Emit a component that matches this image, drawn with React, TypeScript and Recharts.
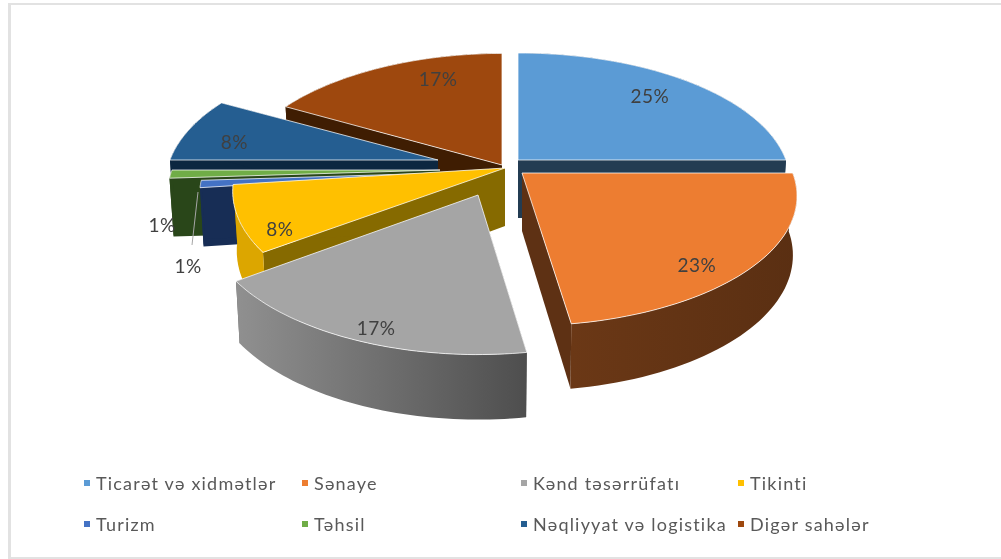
import React from "react";
import { PieChart, Pie, Legend } from "recharts";

const categories = ["Ticarət və xidmətlər", "Sənaye", "Kənd təsərrüfatı", "Tikinti", "Turizm", "Təhsil", "Nəqliyyat və logistika", "Digər sahələr"];
const shares = [25, 22.6, 17.4, 8, 1, 1, 8, 17];
const topColors = ["#5b9bd5", "#ed7d31", "#a5a5a5", "#ffc000", "#4472c4", "#70ad47", "#255e91", "#9e480e"];
const cutColors = ["#233c52", "#5e3114", "#636363", "#866a00", "#172d55", "#294619", "#0c2740", "#3f1d02"];
const wallLeft = ["#233c52", "#6b3816", "#909090", "#dca600", "#172d55", "#294619", "#0c2740", "#3f1d02"];
const wallRight = ["#233c52", "#5a2f12", "#4e4e4e", "#dca600", "#172d55", "#294619", "#0c2740", "#3f1d02"];
const paintOrder = [0, 7, 6, 5, 4, 3, 1, 2];

// slice explosion (from chart centre), radius factor and tilt
const offsetX = [18, 22, -22, 5, -58, -60, -62, 2];
const offsetY = [-5, 8, 30, 3, 8, 5, -5, 0];
const radiusScale = [1, 1.01, 1, 1, 0.89, 1, 1, 1];
const tilt = [0.47, 0.465, 0.49, 0.48, 0.48, 0.48, 0.48, 0.49];
// label placement
const labelFraction = [0.75, 0.8, 0.92, 0.85, 1.04, 1.04, 0.8, 0.75];
const labelNudgeX = [2, -6, 10, -1, 0, 0, -3, 28];
const labelNudgeY = [-3, 19, 1, 18, 0, 0, 6, -10];
const legendColumns = [84, 302, 521, 738];
const legendRows = [483, 524];

const data = categories.map((name, i) => ({ name, value: shares[i] }));

const PERSPECTIVE = 0.177;
const DEPTH = 58;
const RAD = Math.PI / 180;

function project(i: number, cx: number, cy: number, R: number, angle: number, f: number) {
  const px = Math.cos(angle * RAD) * f;
  const py = -Math.sin(angle * RAD) * f;
  const s = 1 / (1 - PERSPECTIVE * py);
  const r = R * radiusScale[i];
  return { x: cx + offsetX[i] + r * px * s, y: cy + offsetY[i] + r * tilt[i] * py * s, py };
}
function lowered(i: number, cx: number, p: { x: number; y: number; py: number }) {
  const ax = cx + offsetX[i];
  return { x: ax + (p.x - ax) * 0.985, y: p.y + DEPTH + 7 * Math.max(p.py, 0) };
}
const fmt = (p: { x: number; y: number }) => `${p.x.toFixed(1)} ${p.y.toFixed(1)}`;

function Slice3D(props: any) {
  const { index: i, cx, cy, outerRadius: R, startAngle, endAngle } = props;
  const steps = 48;
  const arc = [];
  for (let k = 0; k <= steps; k++) {
    arc.push(project(i, cx, cy, R, startAngle + ((endAngle - startAngle) * k) / steps, 1));
  }
  const apex = project(i, cx, cy, R, 0, 0);
  const low = arc.map((p) => lowered(i, cx, p));
  const apexLow = lowered(i, cx, apex);
  const top = `M${fmt(apex)} L${arc.map(fmt).join(" L")} Z`;
  const cut = (p: any, q: any) => `M${fmt(apex)} L${fmt(p)} L${fmt(q)} L${fmt(apexLow)} Z`;
  const wall = `M${arc.map(fmt).join(" L")} L${low.slice().reverse().map(fmt).join(" L")} Z`;
  const id = `wall-${i}`;
  return (
    <g>
      <defs>
        <linearGradient id={id} x1="0" y1="0" x2="1" y2="0">
          <stop offset="0" stopColor={wallLeft[i]} />
          <stop offset="1" stopColor={wallRight[i]} />
        </linearGradient>
      </defs>
      <path d={cut(arc[0], low[0])} fill={cutColors[i]} />
      <path d={cut(arc[steps], low[steps])} fill={cutColors[i]} />
      <path d={wall} fill={`url(#${id})`} />
      <path d={top} fill={topColors[i]} stroke="#ffffff" strokeOpacity={0.75} strokeWidth={1} strokeLinejoin="round" />
    </g>
  );
}

function renderLabel(props: any) {
  const { index: i, cx, cy, outerRadius: R, midAngle, percent } = props;
  const p = project(i, cx, cy, R, midAngle, labelFraction[i]);
  let x = p.x + labelNudgeX[i];
  let y = p.y + labelNudgeY[i];
  let leader = null;
  if (i === 5) { x = 162; y = 224; }
  if (i === 4) {
    x = 188;
    y = 265;
    leader = <line x1={198} y1={192} x2={192} y2={245} stroke="#a6a6a6" strokeWidth={1} />;
  }
  return (
    <g key={`l-${i}`}>
      {leader}
      <text x={x} y={y} textAnchor="middle" dominantBaseline="central" fontFamily="Lato, sans-serif" fontSize={19} letterSpacing={0.5} fill="#404040">
        {`${Math.round(percent * 100)}%`}
      </text>
    </g>
  );
}

function LegendBlock() {
  return (
    <div style={{ position: "relative", width: 1001, height: 559 }}>
      {categories.map((name, i) => {
        const left = legendColumns[i % 4];
        const top = legendRows[Math.floor(i / 4)];
        return (
          <div key={name}>
            <span style={{ position: "absolute", left, top: top - 3, width: 6, height: 6, background: topColors[i] }} />
            <span style={{ position: "absolute", left: left + 12, top: top - 12, lineHeight: "24px", fontFamily: "Lato, sans-serif", fontSize: 18, letterSpacing: 1.2, color: "#595959", whiteSpace: "nowrap" }}>{name}</span>
          </div>
        );
      })}
    </div>
  );
}

export default function App() {
  return (
    <div style={{ position: "absolute", left: 0, top: 0, width: 1001, height: 559, background: "#fff", overflow: "hidden" }}>
      <div style={{ position: "absolute", left: 8, top: 3, width: 993, height: 2, background: "#e2e2e2" }} />
      <div style={{ position: "absolute", left: 8, top: 3, width: 3, height: 556, background: "#e2e2e2" }} />
      <div style={{ position: "absolute", left: 8, top: 557, width: 993, height: 2, background: "#e2e2e2" }} />
      <div style={{ position: "absolute", left: 0, top: 0, filter: "blur(0.5px)" }}>
        <PieChart width={1001} height={559} margin={{ top: 0, right: 0, bottom: 0, left: 0 }}>
          {paintOrder.map((layer, n) => (
            <Pie
              key={layer}
              data={data}
              dataKey="value"
              nameKey="name"
              cx={500}
              cy={165}
              outerRadius={268}
              startAngle={90}
              endAngle={-270}
              stroke="none"
              isAnimationActive={false}
              labelLine={false}
              label={n === paintOrder.length - 1 ? renderLabel : false}
              shape={(p: any) => (p.index === layer ? <Slice3D {...p} /> : <g />)}
            />
          ))}
          <Legend content={() => <LegendBlock />} wrapperStyle={{ left: 0, top: 0, width: 1001, height: 559 }} />
        </PieChart>
      </div>
    </div>
  );
}
